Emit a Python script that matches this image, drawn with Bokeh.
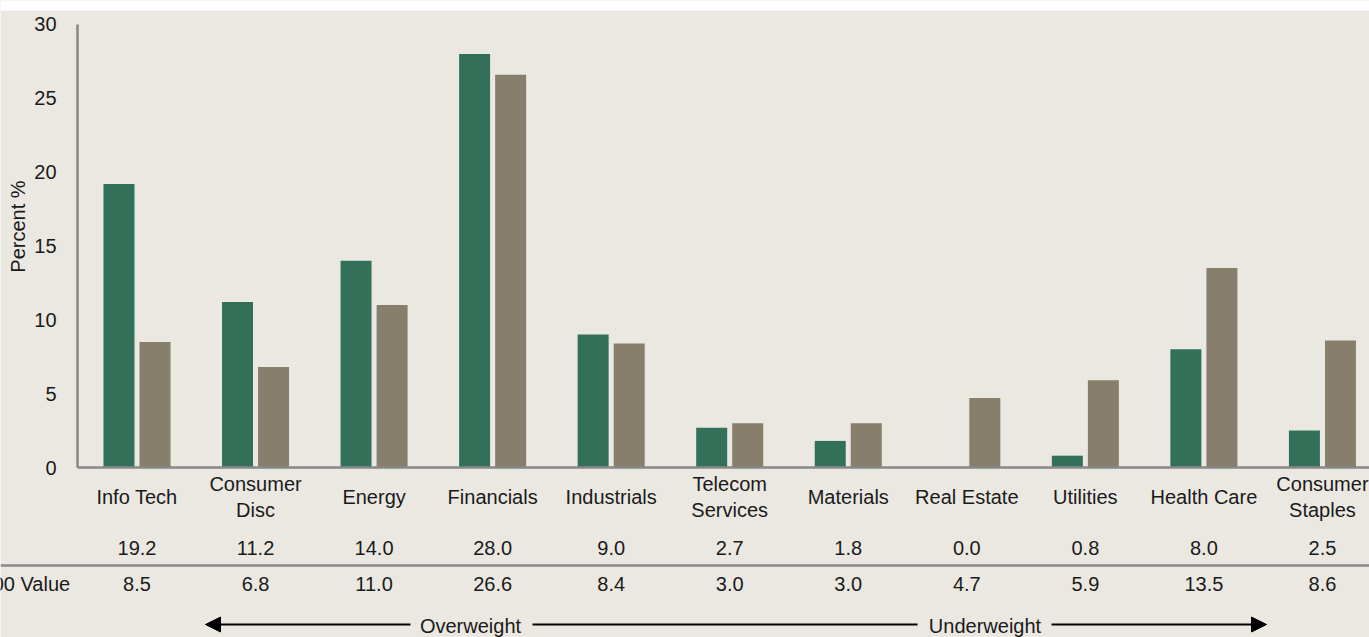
import math
from bokeh.plotting import figure
from bokeh.models import (Range1d, Span, Arrow, NormalHead, ColumnDataSource, BoxAnnotation)
from bokeh.core.properties import value
from bokeh.transform import dodge
from bokeh.embed import file_html
from bokeh.resources import INLINE

# ---------------- data ----------------
categories = ["Info Tech", "Consumer\nDisc", "Energy", "Financials", "Industrials",
              "Telecom\nServices", "Materials", "Real Estate", "Utilities",
              "Health Care", "Consumer\nStaples"]
portfolio = [19.2, 11.2, 14.0, 28.0, 9.0, 2.7, 1.8, 0.0, 0.8, 8.0, 2.5]
sp500_value = [8.5, 6.8, 11.0, 26.6, 8.4, 3.0, 3.0, 4.7, 5.9, 13.5, 8.6]
y_ticks = [0, 5, 10, 15, 20, 25, 30]
row2_label = "S&P 500 Value"
arrow_texts = ["Overweight", "Underweight"]
y_title = "Percent %"

# ---------------- style ----------------
FONT = "Liberation Sans"
BG = "#EBE8E2"
GREEN = "#33705A"
TAUPE = "#877E6B"
AXIS = "#888888"
TXT = "#1a1a1a"
FS = "20px"
W, H = 1369, 637

# table row positions (value units below the zero line)
ROW_CAT1, ROW_CAT2a, ROW_CAT2b = -2.03, -1.15, -2.91
ROW_PORT, ROW_SEP, ROW_SPV, ROW_ARROW = -5.42, -6.64, -7.86, -10.63

xr = Range1d(-1.1514, 10.397)
yr = Range1d(-11.51, 31.62)


def px_x(px):
    """screen x (pixels from left) -> data x"""
    return xr.start + px * (xr.end - xr.start) / W


def px_y(py):
    """screen y (pixels from top) -> data y"""
    return yr.end - py * (yr.end - yr.start) / H


idx = list(range(len(categories)))
src = ColumnDataSource(dict(x=idx, port=portfolio, spv=sp500_value,
                            port_txt=[f"{v:.1f}" for v in portfolio],
                            spv_txt=[f"{v:.1f}" for v in sp500_value]))

p = figure(width=W, height=H, output_backend="svg", toolbar_location=None,
           x_range=xr, y_range=yr, x_axis_location=None, y_axis_location=None,
           min_border=0)
p.background_fill_color = BG
p.border_fill_color = BG
p.outline_line_color = None
p.grid.visible = False

# white strip at the very top (cropped page header)
p.add_layout(BoxAnnotation(bottom=px_y(10), fill_color="white", fill_alpha=1,
                           line_color=None))

bw = 0.2615
off = 0.152
p.vbar(x=dodge("x", -off), top="port", width=bw, bottom=0, source=src,
       fill_color=GREEN, line_color=None)
p.vbar(x=dodge("x", off), top="spv", width=bw, bottom=0, source=src,
       fill_color=TAUPE, line_color=None)

# axes lines
ax_x = px_x(77)
p.segment(x0=[ax_x], y0=[0], x1=[xr.end], y1=[0], line_color=AXIS, line_width=2.5)
p.segment(x0=[ax_x], y0=[y_ticks[0]], x1=[ax_x], y1=[y_ticks[-1]],
          line_color=AXIS, line_width=2.5)
# table separator
p.add_layout(Span(location=ROW_SEP, dimension="width", line_color=AXIS, line_width=2.5))

# y tick labels
p.text(x=[px_x(56)] * len(y_ticks), y=y_ticks, text=[str(t) for t in y_ticks],
       text_font=value(FONT), text_font_size=FS, text_align="right",
       text_baseline="middle", text_color=TXT)
# y title
p.text(x=[px_x(17)], y=[px_y(226)], text=[y_title], angle=math.pi / 2,
       text_font=value(FONT), text_font_size=FS, text_align="center",
       text_baseline="middle", text_color=TXT)

# category labels (one or two lines)
lx, ly, lt = [], [], []
for i, c in enumerate(categories):
    parts = c.split("\n")
    if len(parts) == 1:
        lx.append(i); ly.append(ROW_CAT1); lt.append(parts[0])
    else:
        lx += [i, i]; ly += [ROW_CAT2a, ROW_CAT2b]; lt += parts
p.text(x=lx, y=ly, text=lt, text_font=value(FONT), text_font_size=FS,
       text_align="center", text_baseline="middle", text_color=TXT)

# table rows
p.text(x="x", y=ROW_PORT, text="port_txt", source=src, text_font=value(FONT),
       text_font_size=FS, text_align="center", text_baseline="middle", text_color=TXT)
p.text(x="x", y=ROW_SPV, text="spv_txt", source=src, text_font=value(FONT),
       text_font_size=FS, text_align="center", text_baseline="middle", text_color=TXT)
p.text(x=[px_x(70)], y=[ROW_SPV], text=[row2_label], text_font=value(FONT),
       text_font_size=FS, text_align="right", text_baseline="middle", text_color=TXT)

# arrows
head = dict(size=15, fill_color="black", line_color="black")
p.add_layout(Arrow(end=NormalHead(**head), x_start=px_x(410), y_start=ROW_ARROW,
                   x_end=px_x(205), y_end=ROW_ARROW, line_width=2, line_color="black"))
p.segment(x0=[px_x(532)], y0=[ROW_ARROW], x1=[px_x(917)], y1=[ROW_ARROW],
          line_width=2, line_color="black")
p.add_layout(Arrow(end=NormalHead(**head), x_start=px_x(1051), y_start=ROW_ARROW,
                   x_end=px_x(1266), y_end=ROW_ARROW, line_width=2, line_color="black"))
p.text(x=[px_x(470), px_x(984.5)], y=[ROW_ARROW - 0.07] * 2, text=arrow_texts,
       text_font=value(FONT), text_font_size=FS, text_align="center",
       text_baseline="middle", text_color=TXT)

open("out.html", "w").write(file_html(p, INLINE))
